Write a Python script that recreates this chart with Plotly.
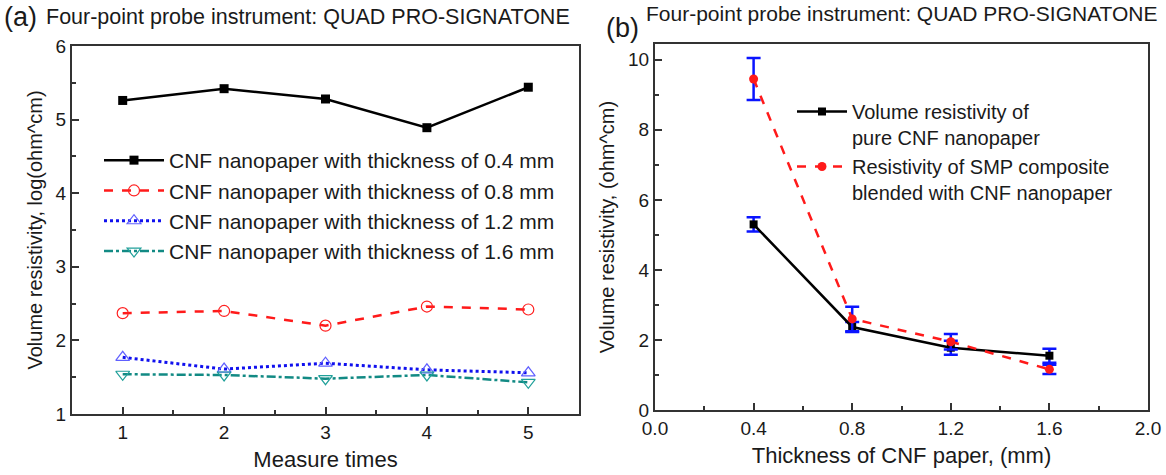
import plotly.graph_objects as go

# Panel (a)
measure_times = [1, 2, 3, 4, 5]
thick_04 = [5.26, 5.42, 5.28, 4.89, 5.44]
thick_08 = [2.37, 2.40, 2.20, 2.46, 2.42]
thick_12 = [1.77, 1.61, 1.69, 1.60, 1.56]
thick_16 = [1.54, 1.53, 1.48, 1.53, 1.43]
names_a = ["CNF nanopaper with thickness of 0.4 mm",
           "CNF nanopaper with thickness of 0.8 mm",
           "CNF nanopaper with thickness of 1.2 mm",
           "CNF nanopaper with thickness of 1.6 mm"]

# Panel (b)
thickness = [0.4, 0.8, 1.2, 1.6]
pure_cnf = [5.30, 2.37, 1.78, 1.55]
pure_cnf_err = [0.20, 0.14, 0.20, 0.20]
smp_comp = [9.45, 2.60, 1.95, 1.16]
smp_comp_err = [0.60, 0.35, 0.22, 0.13]
names_b = ["Volume resistivity of<br>pure CNF nanopaper",
           "Resistivity of SMP composite<br>blended with CNF nanopaper"]

FONT = "Liberation Sans, Arial, sans-serif"
TXT = "#1a1a1a"
fig = go.Figure()

fig.add_trace(go.Scatter(x=measure_times, y=thick_04, name=names_a[0], mode="lines+markers",
                         line=dict(color="black", width=2.5),
                         marker=dict(symbol="square", size=9, color="black"),
                         xaxis="x", yaxis="y", legend="legend"))
fig.add_trace(go.Scatter(x=measure_times, y=thick_08, name=names_a[1], mode="lines+markers",
                         line=dict(color="#ff1a1a", width=2.5, dash="dash"),
                         marker=dict(symbol="circle-open", size=11, color="#ff2020", line=dict(width=1.2)),
                         xaxis="x", yaxis="y", legend="legend"))
fig.add_trace(go.Scatter(x=measure_times, y=thick_12, name=names_a[2], mode="lines+markers",
                         line=dict(color="#1010ee", width=3, dash="dot"),
                         marker=dict(symbol="triangle-up-open", size=12, color="#6060ff", line=dict(width=1.2)),
                         xaxis="x", yaxis="y", legend="legend"))
fig.add_trace(go.Scatter(x=measure_times, y=thick_16, name=names_a[3], mode="lines+markers",
                         line=dict(color="#128a84", width=2.5, dash="dashdot"),
                         marker=dict(symbol="triangle-down-open", size=12, color="#20a09a", line=dict(width=1.2)),
                         xaxis="x", yaxis="y", legend="legend"))

fig.add_trace(go.Scatter(x=thickness, y=pure_cnf, name=names_b[0], mode="lines+markers",
                         line=dict(color="black", width=2.5),
                         marker=dict(symbol="square", size=8, color="black"),
                         error_y=dict(type="data", array=pure_cnf_err, color="#0a14ff", thickness=2.5, width=7),
                         xaxis="x2", yaxis="y2", legend="legend2"))
fig.add_trace(go.Scatter(x=thickness, y=smp_comp, name=names_b[1], mode="lines+markers",
                         line=dict(color="#ff1a1a", width=2.5, dash="dash"),
                         marker=dict(symbol="circle", size=9, color="#ff1a1a"),
                         error_y=dict(type="data", array=smp_comp_err, color="#0a14ff", thickness=2.5, width=7),
                         xaxis="x2", yaxis="y2", legend="legend2"))

W, H = 1166, 475
axis_common = dict(showline=True, linecolor="#333333", linewidth=2, mirror=True,
                   ticks="inside", ticklen=7, tickwidth=1.5, tickcolor="#333333",
                   showgrid=False, zeroline=False, automargin=False,
                   tickfont=dict(family=FONT, size=19, color=TXT))
xtitle_font = dict(family=FONT, size=22, color=TXT)
ytitle_font = dict(family=FONT, size=20, color=TXT)
minor_common = dict(ticks="inside", ticklen=4, tickwidth=1.5, tickcolor="#333333")

fig.update_layout(
    width=W, height=H,
    margin=dict(l=0, r=0, t=0, b=0, autoexpand=False),
    paper_bgcolor="white", plot_bgcolor="white",
    font=dict(family=FONT, color=TXT),
    xaxis=dict(domain=[72 / W, 579 / W], range=[0.5, 5.5], dtick=1,
               minor=dict(dtick=0.5, **minor_common),
               title=dict(text="Measure times", standoff=10, font=xtitle_font), anchor="y", **axis_common),
    yaxis=dict(domain=[1 - 414 / H, 1 - 46 / H], range=[1, 6], dtick=1,
               minor=dict(dtick=0.5, **minor_common),
               title=dict(text="Volume resistivity, log(ohm^cm)", standoff=8, font=ytitle_font),
               anchor="x", **axis_common),
    xaxis2=dict(domain=[655 / W, 1148 / W], range=[0, 2], dtick=0.4, tickformat=".1f",
                minor=dict(dtick=0.2, **minor_common),
                title=dict(text="Thickness of CNF paper, (mm)", standoff=10, font=xtitle_font),
                anchor="y2", **axis_common),
    yaxis2=dict(domain=[1 - 410 / H, 1 - 44 / H], range=[0, 10.45], dtick=2,
                minor=dict(dtick=1, **minor_common),
                title=dict(text="Volume resistivity, (ohm^cm)", standoff=8, font=ytitle_font),
                anchor="x2", **axis_common),
    legend=dict(x=99 / W, y=1 - 140 / H, xanchor="left", yanchor="top",
                bgcolor="rgba(0,0,0,0)", font=dict(family=FONT, size=21, color=TXT),
                tracegroupgap=0, itemwidth=60),
    legend2=dict(x=792 / W, y=1 - 92 / H, xanchor="left", yanchor="top", valign="top",
                 bgcolor="rgba(0,0,0,0)", font=dict(family=FONT, size=20, color=TXT),
                 itemwidth=50, tracegroupgap=0),
    showlegend=True,
)

fig.add_annotation(text="(a)", x=2 / W, y=1 - 0 / H, xref="paper", yref="paper",
                   xanchor="left", yanchor="top", showarrow=False,
                   font=dict(family=FONT, size=27, color=TXT))
fig.add_annotation(text="Four-point probe instrument: QUAD PRO-SIGNATONE", x=44 / W, y=1 - 3 / H,
                   xref="paper", yref="paper", xanchor="left", yanchor="top", showarrow=False,
                   font=dict(family=FONT, size=21.5, color=TXT))
fig.add_annotation(text="(b)", x=604 / W, y=1 - 11 / H, xref="paper", yref="paper",
                   xanchor="left", yanchor="top", showarrow=False,
                   font=dict(family=FONT, size=27, color=TXT))
fig.add_annotation(text="Four-point probe instrument: QUAD PRO-SIGNATONE", x=644 / W, y=1 - 0 / H,
                   xref="paper", yref="paper", xanchor="left", yanchor="top", showarrow=False,
                   font=dict(family=FONT, size=21, color=TXT))

fig.write_html("out.html", config={"displayModeBar": False},
               post_script="document.body.style.margin='0';document.body.style.overflow='hidden';")
